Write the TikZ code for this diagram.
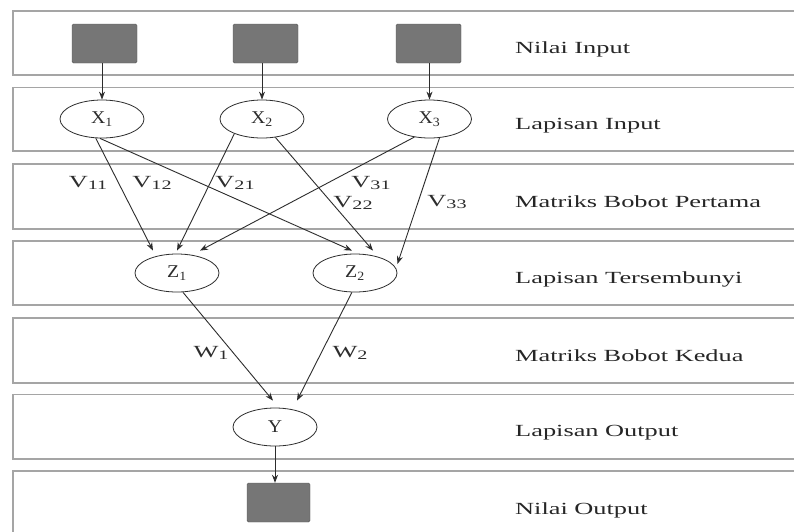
\documentclass[tikz,border=0pt]{standalone}
\usepackage{fontspec}
\setmainfont{Liberation Serif}[FakeStretch=1.55]
\newfontfamily\plainserif{Liberation Serif}[FakeStretch=1.1]
\usetikzlibrary{shapes.geometric,arrows.meta,calc}
\definecolor{bandline}{RGB}{165,165,165}
\definecolor{boxfill}{RGB}{118,118,118}
\definecolor{inkgray}{RGB}{45,45,45}
\tikzset{
  band/.style={draw=bandline,line width=1.6pt},
  valbox/.style={draw=black!65,fill=boxfill,minimum width=65pt,minimum height=39pt,
    inner sep=0pt,rounded corners=1.5pt},
  neuron/.style={ellipse,draw=inkgray,line width=0.8pt,minimum width=84pt,minimum height=38pt,
    inner sep=0pt,font=\plainserif\fontsize{18}{18}\selectfont,text=inkgray},
  link/.style={draw=inkgray,line width=0.9pt,-{Stealth[length=8pt,width=6pt]}},
  wlabel/.style={inner sep=0pt,font=\fontsize{17}{17}\selectfont,text=inkgray},
  layertext/.style={anchor=base west,inner sep=0pt,font=\fontsize{17}{17}\selectfont,text=black!85},
}
% weight symbol with a lowered, smaller index
\newcommand{\wsub}[2]{#1\raisebox{-1.5pt}{\fontsize{13}{13}\selectfont #2}}
\begin{document}
\begin{tikzpicture}[x=1pt,y=-1pt]
\useasboundingbox (0,0) rectangle (794,531);
\clip (0,0) rectangle (794,531);
\fill[white] (0,0) rectangle (794,531);

% layer bands
\foreach \t/\b in {11/75, 87.5/151, 164/229, 241/305, 318/383, 394.5/459, 471/545}
  \draw[band] (13,\t) rectangle (820,\b);

% input values
\node[valbox] (sq1) at (104.5,43.5) {};
\node[valbox] (sq2) at (265.5,43.5) {};
\node[valbox] (sq3) at (428.5,43.5) {};

% input layer
\node[neuron] (x1) at (102,119) {X\textsubscript{1}};
\node[neuron] (x2) at (262,119) {X\textsubscript{2}};
\node[neuron] (x3) at (429.5,119) {X\textsubscript{3}};

% hidden layer
\node[neuron] (z1) at (177,273) {Z\textsubscript{1}};
\node[neuron] (z2) at (355,273) {Z\textsubscript{2}};

% output layer
\node[neuron] (y) at (275,427) {Y};
\node[valbox,minimum width=63pt] (out) at (278.5,502.5) {};

% connections
\draw[link] (x1.north |- sq1.south) -- (x1.north);
\draw[link] (x2.north |- sq2.south) -- (x2.north);
\draw[link] (x3.north |- sq3.south) -- (x3.north);

\draw[link] (x1.252) -- ($(z1.north)+(-24,-3)$);
\draw[link] (x1.264) -- ($(z2.north)+(-3,-3)$);
\draw[link] (x2.208) -- ($(z1.north)+(0,-3)$);
\draw[link] (x2.306) -- ($(z2.north)+(18,-3)$);
\draw[link] (x3.230) -- ($(z1.north)+(23,-3)$);
\draw[link] (x3.298) -- ($(z2.east)+(0,-9)$);

\draw[link] (z1.287) -- ($(y.north)+(-2,-7)$);
\draw[link] (z2.261) -- ($(y.north)+(22,-7)$);

\draw[link] (y.south) -- (y.south |- out.north);

% weight labels
\node[wlabel] (v11) at (88,183) {\wsub{V}{11}};
\node[wlabel] (v12) at (152,183) {\wsub{V}{12}};
\node[wlabel] (v21) at (235,183) {\wsub{V}{21}};
\node[wlabel] (v31) at (371,183) {\wsub{V}{31}};
\node[wlabel] (v22) at (353,203) {\wsub{V}{22}};
\node[wlabel] (v33) at (447,202) {\wsub{V}{33}};
\node[wlabel] (w1) at (211,353) {\wsub{W}{1}};
\node[wlabel] (w2) at (350,353) {\wsub{W}{2}};

% layer names
\node[layertext] (t1) at (515,53) {Nilai Input};
\node[layertext] (t2) at (515,129) {Lapisan Input};
\node[layertext] (t3) at (515,207) {Matriks Bobot Pertama};
\node[layertext] (t4) at (515,283) {Lapisan Tersembunyi};
\node[layertext] (t5) at (515,361) {Matriks Bobot Kedua};
\node[layertext] (t6) at (515,436) {Lapisan Output};
\node[layertext] (t7) at (515,514) {Nilai Output};
\end{tikzpicture}
\end{document}
